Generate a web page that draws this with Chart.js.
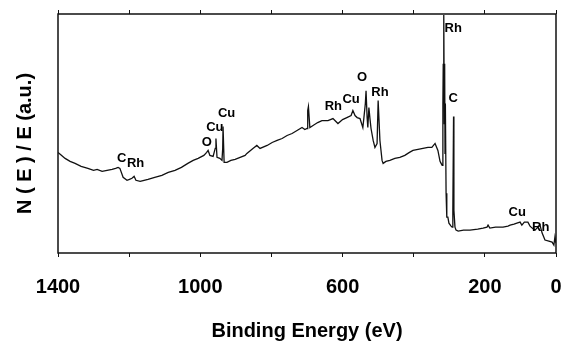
<!DOCTYPE html>
<html>
<head>
<meta charset="utf-8">
<title>XPS survey</title>
<script src="https://cdn.jsdelivr.net/npm/chart.js@4.4.1/dist/chart.umd.min.js"></script>
<style>
    body { margin: 0; background: #fff; }
    #wrap { width: 571px; height: 349px; }
</style>
</head>
<body>
<div id="wrap"><canvas id="xpsChart" width="571" height="349"></canvas></div>
<script>
// Binding energy (eV) and intensity (a.u.)
const energy = [
    1400, 1393, 1380, 1366, 1352, 1335, 1316, 1300, 1290, 1276, 1262, 1248, 1238, 1231, 1226,
    1217, 1206, 1199, 1192, 1186, 1181, 1169, 1158, 1147, 1128, 1108, 1090, 1071, 1053, 1035,
    1020, 1006, 990, 982, 978, 973, 964, 958, 956, 953, 945, 939, 937, 936, 933,
    925, 914, 902, 888, 874, 869, 852, 841, 835, 832, 812, 798, 784, 770, 756,
    742, 728, 714, 706, 700, 698, 696, 692, 683, 670, 658, 641, 627, 613, 600,
    588, 576, 571, 565, 559, 551, 543, 540, 536, 534, 531, 529, 526, 523, 520,
    514, 509, 503, 500, 495, 489, 486, 478, 467, 453, 439, 425, 412, 402, 388,
    374, 360, 349, 340, 332, 326, 323, 320, 318, 317, 316, 315, 314, 313, 312,
    311, 309, 307, 304, 301, 295, 292, 290, 288, 287, 284, 281, 275, 260, 242,
    220, 205, 194, 191, 186, 170, 149, 135, 129, 118, 110, 101, 96, 89, 79,
    73, 67, 59, 51, 45, 39, 31, 20, 11, 6, 3, 0
];
const intensity = [
    101, 99, 95, 92, 90, 87, 85, 83, 84, 82, 83, 84, 85, 86, 85,
    76, 73, 74, 75, 77, 73, 72, 73, 74, 76, 78, 81, 83, 86, 90,
    93, 95, 98, 101, 103, 98, 97, 105, 115, 96, 95, 93, 105, 127, 91,
    91, 93, 94, 96, 98, 100, 105, 108, 106, 105, 108, 111, 113, 115, 118,
    120, 123, 126, 124, 125, 143, 147, 126, 128, 131, 133, 133, 135, 130, 134,
    136, 138, 143, 138, 136, 135, 126, 136, 150, 163, 136, 126, 146, 135, 125,
    113, 106, 110, 153, 113, 93, 90, 92, 93, 95, 96, 98, 101, 103, 104,
    105, 106, 106, 110, 103, 92, 90, 88, 150, 190, 175, 239, 130, 190, 100,
    150, 60, 36, 36, 30, 27, 26, 43, 137, 43, 26, 23, 22, 23, 23,
    24, 25, 26, 28, 25, 26, 26, 27, 28, 29, 30, 31, 28, 31, 31,
    27, 25, 23, 26, 28, 20, 13, 12, 11, 8, 16, 10
];

// x axis: ticks every 200 eV, only some of them labelled
const tickLabels = [1400, 1000, 600, 200, 0];

// peak assignments written over the spectrum
const peakNames = ['C', 'Rh', 'O', 'Cu', 'Cu', 'Rh', 'Cu', 'O', 'Rh', 'Rh', 'C', 'Cu', 'Rh'];
const peakEnergy = [1221, 1182, 982, 959, 926, 626, 576, 545, 495, 289, 289, 109, 43];
const peakHeight = [95, 90, 111, 126, 140, 147, 154, 176, 161, 226, 155, 41, 26];

const FONT = "'Liberation Sans', Arial, sans-serif";
const Y_TITLE = 'N ( E ) / E (a.u.)';

// frame round the plot area
const boxPlugin = {
    id: 'box',
    afterDraw(chart) {
        const { ctx, chartArea: a } = chart;
        ctx.save();
        ctx.strokeStyle = '#111';
        ctx.lineWidth = 1.5;
        ctx.strokeRect(a.left, a.top, a.right - a.left, a.bottom - a.top);
        ctx.restore();
    }
};

// element labels + rotated y title (sits a bit below the axis centre in the original)
const textPlugin = {
    id: 'peakLabels',
    afterDatasetsDraw(chart) {
        const { ctx, scales, chartArea: a } = chart;
        ctx.save();
        ctx.fillStyle = '#000';
        ctx.font = 'bold 13px ' + FONT;
        ctx.textAlign = 'center';
        ctx.textBaseline = 'middle';
        peakNames.forEach((name, i) => {
            ctx.fillText(name, scales.x.getPixelForValue(peakEnergy[i]), scales.y.getPixelForValue(peakHeight[i]));
        });

        ctx.font = 'bold 20px ' + FONT;
        ctx.translate(25, (a.top + a.bottom) / 2 + 10);
        ctx.rotate(-Math.PI / 2);
        ctx.fillText(Y_TITLE, 0, 0);
        ctx.restore();
    }
};

// reversed axis: chart.js reserves room for "1400" on the wrong side, drop it
function noLabelPadding(s) {
    s.paddingLeft = 0;
    s.paddingRight = 0;
}

function initChart() {
    const ctx = document.getElementById('xpsChart').getContext('2d');
    const points = energy.map((e, i) => ({ x: e, y: intensity[i] }));

    new Chart(ctx, {
        type: 'line',
        data: {
            datasets: [{
                data: points,
                borderColor: '#111',
                borderWidth: 1.3,
                pointRadius: 0,
                tension: 0,
                fill: false
            }]
        },
        options: {
            responsive: false,
            animation: false,
            layout: { padding: { top: 10, right: 15, bottom: 0, left: 0 } },
            plugins: {
                legend: { display: false },
                tooltip: { enabled: false }
            },
            scales: {
                x: {
                    type: 'linear',
                    position: 'bottom',
                    reverse: true,
                    min: 0,
                    max: 1400,
                    border: { display: false },
                    grid: { drawOnChartArea: false, tickLength: 4, color: '#111' },
                    ticks: {
                        stepSize: 200,
                        autoSkip: false,
                        maxRotation: 0,
                        padding: 18,
                        color: '#000',
                        font: { family: FONT, size: 20, weight: 'bold' },
                        callback: v => tickLabels.includes(v) ? String(v) : ''
                    },
                    title: {
                        display: true,
                        text: 'Binding Energy (eV)',
                        color: '#000',
                        font: { family: FONT, size: 20, weight: 'bold' },
                        padding: { top: 0, bottom: 6 }
                    },
                    afterFit: s => { s.height = 96; noLabelPadding(s); }
                },
                xTop: {
                    type: 'linear',
                    position: 'top',
                    reverse: true,
                    min: 0,
                    max: 1400,
                    border: { display: false },
                    grid: { drawOnChartArea: false, tickLength: 4, color: '#111' },
                    ticks: { stepSize: 200, display: false },
                    afterFit: noLabelPadding
                },
                y: {
                    position: 'left',
                    min: 0,
                    max: 240,
                    border: { display: false },
                    grid: { display: false },
                    ticks: { display: false },
                    afterFit: s => { s.width = 58; }
                }
            }
        },
        plugins: [boxPlugin, textPlugin]
    });
}

document.addEventListener('DOMContentLoaded', initChart);
</script>
</body>
</html>
